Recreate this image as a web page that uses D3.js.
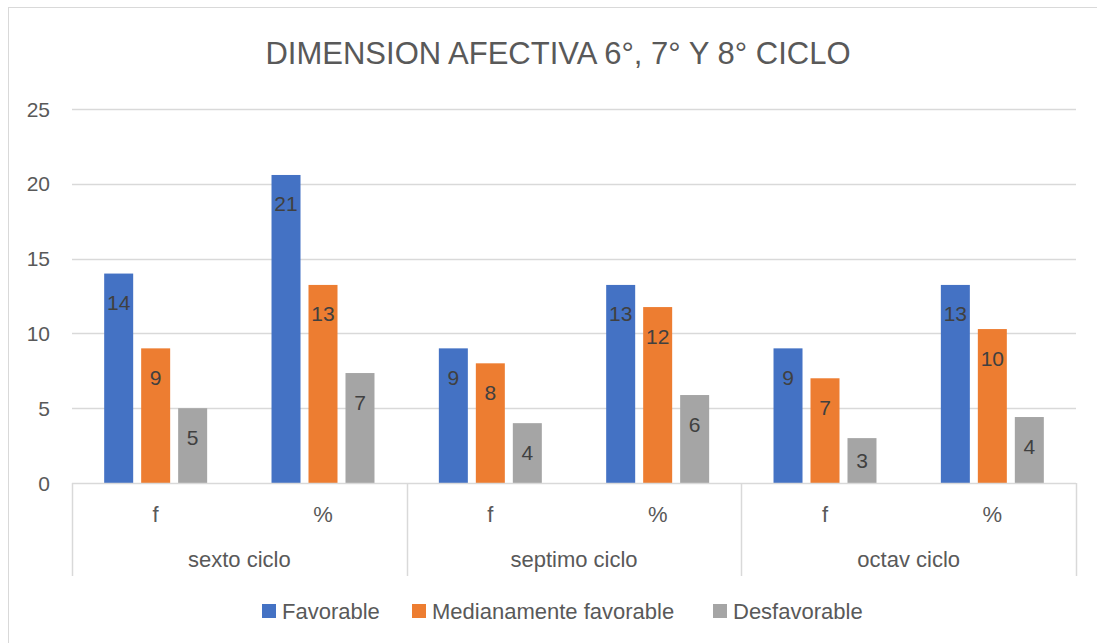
<!DOCTYPE html>
<html>
<head>
<meta charset="utf-8">
<script src="https://cdn.jsdelivr.net/npm/d3@7"></script>
<style>
  body { margin: 0; background: #fff; }
  text { font-family: "Liberation Sans", Arial, sans-serif; }
</style>
</head>
<body>
<svg id="canvas" width="1097" height="643"></svg>
<script>
// chart data
const groups = ["sexto ciclo", "septimo ciclo", "octav ciclo"];
const subs = ["f", "%"];
const seriesNames = ["Favorable", "Medianamente favorable", "Desfavorable"];
const favorable = [14, 20.59, 9, 13.24, 9, 13.24];
const medianamente = [9, 13.24, 8, 11.76, 7, 10.29];
const desfavorable = [5, 7.35, 4, 5.88, 3, 4.41];
const yTicks = [0, 5, 10, 15, 20, 25];

const colors = ["#4472C4", "#ED7D31", "#A5A5A5"];
const gridColor = "#D9D9D9";
const textColor = "#595959";

const svg = d3.select('#canvas');

// outer chart border
svg.append('rect')
    .attr('x', 8.5).attr('y', 7.5)
    .attr('width', 1100).attr('height', 660)
    .attr('fill', 'none')
    .attr('stroke', gridColor);

const plotLeft = 72, plotRight = 1076, plotTop = 109, plotBottom = 483;

// build one row per (group, sub) category
let cats = [];
groups.forEach((g, gi) => {
    subs.forEach((s, si) => {
        let idx = gi * subs.length + si;
        cats.push({
            key: g + "|" + s,
            group: g,
            sub: s,
            values: [favorable[idx], medianamente[idx], desfavorable[idx]]
        });
    });
});

const x = d3.scaleBand()
    .domain(cats.map(d => d.key))
    .range([plotLeft, plotRight]);

const xGroup = d3.scaleBand()
    .domain(groups)
    .range([plotLeft, plotRight]);

const xInner = d3.scaleBand()
    .domain(seriesNames)
    .range([0, x.bandwidth()])
    .paddingInner(0.216)
    .paddingOuter(0.87);

const y = d3.scaleLinear()
    .domain([0, 25])
    .range([plotBottom, plotTop]);

// title
svg.append('text')
    .attr('x', 558)
    .attr('y', 64)
    .attr('text-anchor', 'middle')
    .attr('font-size', 31)
    .attr('fill', textColor)
    .text("DIMENSION AFECTIVA 6°, 7° Y 8° CICLO");

// gridlines + y labels
svg.append('g')
    .selectAll('line')
    .data(yTicks.filter(t => t > 0))
    .join('line')
    .attr('x1', plotLeft).attr('x2', plotRight)
    .attr('y1', d => Math.round(y(d)) + 0.5)
    .attr('y2', d => Math.round(y(d)) + 0.5)
    .attr('stroke', gridColor)
    .attr('stroke-width', 1.5);

svg.append('g')
    .selectAll('text')
    .data(yTicks)
    .join('text')
    .attr('x', 50)
    .attr('y', d => y(d) + 7.5)
    .attr('text-anchor', 'end')
    .attr('font-size', 21)
    .attr('fill', textColor)
    .text(d => d);

// bars
let catGroups = svg.append('g')
    .selectAll('g')
    .data(cats)
    .join('g')
    .attr('transform', d => `translate(${x(d.key)},0)`);

catGroups.selectAll('rect')
    .data(d => d.values.map((v, i) => ({name: seriesNames[i], value: v, i: i})))
    .join('rect')
    .attr('x', d => xInner(d.name))
    .attr('y', d => y(d.value))
    .attr('width', xInner.bandwidth())
    .attr('height', d => y(0) - y(d.value))
    .attr('fill', d => colors[d.i]);

// data labels (inside end, pulled toward centre for short bars)
catGroups.selectAll('text')
    .data(d => d.values.map((v, i) => ({name: seriesNames[i], value: v, i: i})))
    .join('text')
    .attr('x', d => xInner(d.name) + xInner.bandwidth() / 2)
    .attr('y', d => {
        let top = y(d.value);
        let mid = (top + y(0)) / 2;
        return Math.min(top + 29, mid) + 7.5;
    })
    .attr('text-anchor', 'middle')
    .attr('font-size', 21)
    .attr('fill', '#404040')
    .text(d => Math.round(d.value));

// category axis
let axis = svg.append('g');
axis.append('line')
    .attr('x1', plotLeft).attr('x2', plotRight)
    .attr('y1', plotBottom + 0.5).attr('y2', plotBottom + 0.5)
    .attr('stroke', gridColor)
    .attr('stroke-width', 1.5);

let sepXs = groups.map(g => xGroup(g)).concat([plotRight]);
axis.selectAll('line.sep')
    .data(sepXs)
    .join('line')
    .attr('class', 'sep')
    .attr('x1', d => Math.round(d) + 0.5).attr('x2', d => Math.round(d) + 0.5)
    .attr('y1', plotBottom).attr('y2', 576)
    .attr('stroke', gridColor)
    .attr('stroke-width', 1.5);

axis.selectAll('text.sub')
    .data(cats)
    .join('text')
    .attr('class', 'sub')
    .attr('x', d => x(d.key) + x.bandwidth() / 2)
    .attr('y', 522)
    .attr('text-anchor', 'middle')
    .attr('font-size', 22)
    .attr('fill', textColor)
    .text(d => d.sub);

axis.selectAll('text.grp')
    .data(groups)
    .join('text')
    .attr('class', 'grp')
    .attr('x', d => xGroup(d) + xGroup.bandwidth() / 2)
    .attr('y', 567)
    .attr('text-anchor', 'middle')
    .attr('font-size', 22)
    .attr('fill', textColor)
    .text(d => d);

// legend
const legendX = [262, 412, 713];
let legend = svg.append('g')
    .selectAll('g')
    .data(seriesNames)
    .join('g')
    .attr('transform', (d, i) => `translate(${legendX[i]},604)`);

legend.append('rect')
    .attr('width', 14).attr('height', 14)
    .attr('fill', (d, i) => colors[i]);

legend.append('text')
    .attr('x', 20)
    .attr('y', 15)
    .attr('font-size', 22)
    .attr('fill', textColor)
    .text(d => d);
</script>
</body>
</html>
